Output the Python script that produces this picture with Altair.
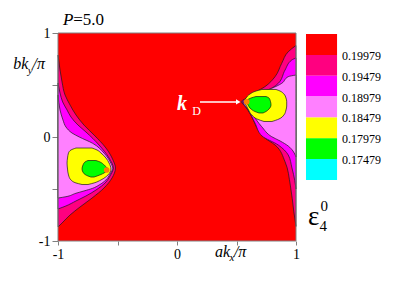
import altair as alt
import pandas as pd

# ---------------- values ----------------
level_colors = ["#FF0000", "#FF0080", "#FF00FF", "#FF80FF", "#FFFF00", "#00FF00", "#00FFFF"]
level_labels = ["0.19979", "0.19479", "0.18979", "0.18479", "0.17979", "0.17479"]

# left valley: contours touching kx = -1  (y, x of the boundary)
LD_y = [0.788, 0.644, 0.529, 0.404, 0.308, 0.212, 0.115, 0.019, -0.106, -0.221, -0.298, -0.394, -0.490, -0.587, -0.673, -0.750, -0.827, -0.865]
LD_x = [-1.0, -0.983, -0.966, -0.941, -0.899, -0.849, -0.782, -0.697, -0.597, -0.538, -0.517, -0.546, -0.613, -0.714, -0.815, -0.899, -0.966, -1.0]
LM_y = [0.519, 0.423, 0.337, 0.260, 0.192, 0.115, 0.048, -0.077, -0.202, -0.298, -0.375, -0.433, -0.510, -0.567, -0.615, -0.663, -0.692]
LM_x = [-1.0, -0.983, -0.961, -0.924, -0.891, -0.832, -0.765, -0.655, -0.571, -0.535, -0.563, -0.597, -0.681, -0.765, -0.849, -0.933, -1.0]
LP_y = [0.404, 0.260, 0.163, 0.096, 0.038, 0.0, -0.061, -0.157, -0.253, -0.301, -0.356, -0.413, -0.462, -0.493, -0.519, -0.541, -0.574, -0.587]
LP_x = [-1.0, -0.983, -0.958, -0.933, -0.882, -0.821, -0.708, -0.611, -0.555, -0.540, -0.563, -0.597, -0.655, -0.708, -0.782, -0.849, -0.933, -1.0]
# left valley: closed contours (y, left x, right x)
LY_y = [-0.106, -0.125, -0.154, -0.202, -0.250, -0.308, -0.365, -0.413, -0.442, -0.457]
LY_xl = [-0.849, -0.891, -0.912, -0.920, -0.924, -0.920, -0.912, -0.891, -0.849, -0.798]
LY_xr = [-0.714, -0.672, -0.639, -0.597, -0.571, -0.555, -0.580, -0.639, -0.697, -0.748]
LG_y = [-0.226, -0.240, -0.269, -0.308, -0.346, -0.375, -0.385]
LG_xl = [-0.748, -0.773, -0.790, -0.798, -0.786, -0.748, -0.723]
LG_xr = [-0.681, -0.647, -0.613, -0.584, -0.613, -0.672, -0.697]

# right valley: contours touching kx = 1
RD_y = [0.880, 0.820, 0.709, 0.580, 0.484, 0.420, 0.365, 0.339, 0.308, 0.195, 0.067, -0.010, -0.077, -0.238, -0.462, -0.720, -0.860]
RD_x = [1.0, 0.935, 0.880, 0.824, 0.739, 0.641, 0.571, 0.538, 0.563, 0.628, 0.683, 0.739, 0.824, 0.908, 0.952, 0.982, 1.0]
RM_y = [0.760, 0.740, 0.644, 0.516, 0.436, 0.388, 0.341, 0.260, 0.135, 0.010, -0.077, -0.173, -0.298, -0.420, -0.500]
RM_x = [1.0, 0.964, 0.908, 0.851, 0.739, 0.628, 0.549, 0.599, 0.655, 0.714, 0.851, 0.935, 0.966, 0.990, 1.0]
RP_y = [0.596, 0.580, 0.516, 0.468, 0.420, 0.341, 0.228, 0.099, 0.003, -0.038, -0.087, -0.135, -0.192]
RP_x = [1.0, 0.935, 0.880, 0.796, 0.683, 0.557, 0.628, 0.712, 0.796, 0.866, 0.935, 0.975, 1.0]
RY_y = [0.457, 0.442, 0.413, 0.375, 0.339, 0.298, 0.260, 0.212, 0.173, 0.149]
RY_xl = [0.714, 0.664, 0.613, 0.580, 0.566, 0.584, 0.601, 0.628, 0.672, 0.731]
RY_xr = [0.832, 0.866, 0.899, 0.916, 0.922, 0.922, 0.916, 0.899, 0.857, 0.798]
RG_y = [0.389, 0.375, 0.339, 0.308, 0.269, 0.245, 0.231]
RG_xl = [0.664, 0.622, 0.580, 0.597, 0.622, 0.655, 0.689]
RG_xr = [0.748, 0.773, 0.786, 0.790, 0.773, 0.748, 0.723]

# Dirac points
dirac_x = [-0.591, 0.586]
dirac_y = [-0.317, 0.339]

tick_values = [-1, -0.5, 0, 0.5, 1]

# ---------------- chart ----------------
SERIF = "Liberation Serif"
LINE = "#1a1a1a"
xs = alt.Scale(domain=[-1, 1], nice=False, zero=False)
ys = alt.Scale(domain=[-1, 1], nice=False, zero=False)
lab = "datum.value == -1 ? '-1' : datum.value == 0 ? '0' : datum.value == 1 ? '1' : ''"

xaxis = alt.Axis(values=tick_values, labelExpr=lab, title=None, domain=False, grid=False,
                 tickColor="#808080", tickSize=4, labelPadding=2, labelFont=SERIF,
                 labelFontSize=14, labelColor="black", labelFlush=False, labelOverlap=False)
yaxis = alt.Axis(values=tick_values, labelExpr=lab, title=None, domain=False, grid=False,
                 tickColor="#808080", tickSize=6, labelPadding=2, labelFont=SERIF,
                 labelFontSize=14, labelColor="black", labelFlush=False, labelOverlap=False)


def EX():
    return alt.X("x:Q", scale=xs, axis=xaxis)


def EY():
    return alt.Y("y:Q", scale=ys, axis=yaxis)


bg = alt.Chart(pd.DataFrame({"x": [-1], "x2": [1], "y": [-1], "y2": [1]})).mark_rect(
    fill=level_colors[0]
).encode(x=EX(), x2="x2:Q", y=EY(), y2="y2:Q")


def band(yv, xa, xb, color):
    if not isinstance(xb, list):
        xb = [xb] * len(yv)
    df = pd.DataFrame({"y": yv, "x": xa, "x2": xb})
    return alt.Chart(df).mark_area(
        orient="horizontal", fill=color, stroke=LINE, strokeWidth=0.7, interpolate="monotone", opacity=1
    ).encode(y=EY(), x=EX(), x2="x2:Q")


layers = [bg,
          band(LD_y, LD_x, -1.0, level_colors[1]),
          band(LM_y, LM_x, -1.0, level_colors[2]),
          band(LP_y, LP_x, -1.0, level_colors[3]),
          band(LY_y, LY_xl, LY_xr, level_colors[4]),
          band(LG_y, LG_xl, LG_xr, level_colors[5]),
          band(RD_y, RD_x, 1.0, level_colors[1]),
          band(RM_y, RM_x, 1.0, level_colors[2]),
          band(RP_y, RP_x, 1.0, level_colors[3]),
          band(RY_y, RY_xl, RY_xr, level_colors[4]),
          band(RG_y, RG_xl, RG_xr, level_colors[5])]

dots = alt.Chart(pd.DataFrame({"x": dirac_x, "y": dirac_y})).mark_circle(
    color="#FF8000", size=32, opacity=1
).encode(x=EX(), y=EY())
layers.append(dots)

# arrow to k_D
arrow = alt.Chart(pd.DataFrame({"x": [0.193], "x2": [0.508], "y": [0.337]})).mark_rule(
    color="white", strokeWidth=1.6
).encode(x=EX(), x2="x2:Q", y=EY())
head = alt.Chart(pd.DataFrame({"x": [0.515], "y": [0.337]})).mark_point(
    shape="triangle-right", filled=True, color="white", size=28, opacity=1
).encode(x=EX(), y=EY())
layers += [arrow, head]


def txt(x, y, s, size, color="black", style="normal", weight="normal", align="left", baseline="alphabetic"):
    return alt.Chart(pd.DataFrame({"x": [x], "y": [y], "t": [s]})).mark_text(
        font=SERIF, fontSize=size, color=color, fontStyle=style, fontWeight=weight,
        align=align, baseline=baseline
    ).encode(x=EX(), y=EY(), text="t:N")


layers += [
    txt(0.0, 0.260, "k", 20, "white", "italic", "bold"),
    txt(0.128, 0.212, "D", 12, "white"),
    txt(-0.958, 1.077, "P", 17, style="italic"),
    txt(-0.872, 1.077, "=5.0", 17),
    txt(-1.376, 0.654, "bk", 16, style="italic"),
    txt(-1.255, 0.606, "y", 11, style="italic"),
    txt(-1.214, 0.654, "/π", 16, style="italic"),
    txt(0.319, -1.151, "ak", 16, style="italic"),
    txt(0.442, -1.192, "x", 11, style="italic"),
    txt(0.478, -1.151, "/π", 16, style="italic"),
]

# frame
frame = alt.Chart(pd.DataFrame({"x": [-1], "x2": [1], "y": [-1], "y2": [1]})).mark_rect(
    filled=False, color="#808080", strokeWidth=1
).encode(x=EX(), x2="x2:Q", y=EY(), y2="y2:Q")
layers.append(frame)

# colour legend drawn beside the plot
top, step = 0.990, 0.2004
leg = pd.DataFrame({
    "x": [1.084] * 7, "x2": [1.345] * 7,
    "y": [top - i * step for i in range(7)],
    "y2": [top - (i + 1) * step for i in range(7)],
    "c": level_colors,
})
legend_rects = alt.Chart(leg).mark_rect().encode(
    x=EX(), x2="x2:Q", y=EY(), y2="y2:Q",
    color=alt.Color("c:N", scale=None, legend=None),
)
leg_lab = pd.DataFrame({
    "x": [1.387] * 6,
    "y": [top - (i + 1) * step - 0.01 for i in range(6)],
    "t": level_labels,
})
legend_text = alt.Chart(leg_lab).mark_text(
    font=SERIF, fontSize=12, color="black", align="left", baseline="middle"
).encode(x=EX(), y=EY(), text="t:N")
layers += [legend_rects, legend_text,
           txt(1.101, -0.846, "ε", 27),
           txt(1.205, -0.709, "0", 15),
           txt(1.198, -0.901, "4", 15)]

chart = alt.layer(*layers).properties(
    width=238, height=208,
    autosize=alt.AutoSizeParams(type="none"),
    padding={"left": 50, "top": 25, "right": 111, "bottom": 40},
).configure_view(stroke=None)

chart.save("out.html", embed_options={"renderer": "svg", "actions": False})
